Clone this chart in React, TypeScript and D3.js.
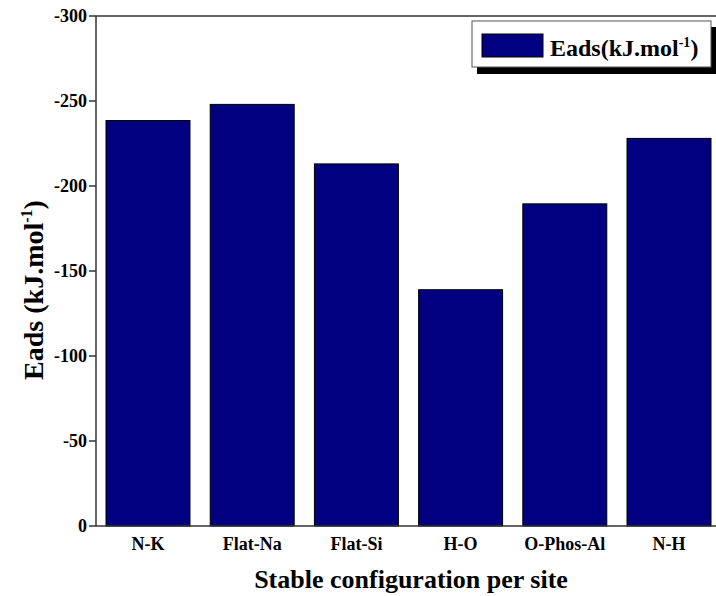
import * as d3 from "d3";
import React from "react";

// adsorption energies per site (kJ/mol)
const sites = ["N-K", "Flat-Na", "Flat-Si", "H-O", "O-Phos-Al", "N-H"];
const eads = [-238.5, -248, -213, -139, -189.5, -228];
const yTicks = [0, -50, -100, -150, -200, -250, -300];

const W = 716;
const H = 596;
const left = 96;
const top = 16;
const bottom = 526;

const App = () => {
  const x = d3.scaleBand<string>()
    .domain(sites)
    .range([left, 721])
    .paddingInner(0.194)
    .paddingOuter(0.096);

  const y = d3.scaleLinear().domain([0, -300]).range([bottom, top]);

  const font = "Liberation Serif, Times New Roman, DejaVu Serif, serif";

  return (
    <svg width={W} height={H}
      style={{ position: "absolute", left: 0, top: 0, background: "#fff", fontFamily: font, fontWeight: "bold" }}>
      {/* bars */}
      {sites.map((s, i) => (
        <rect key={s} x={x(s)} y={y(eads[i])} width={x.bandwidth()} height={bottom - y(eads[i])}
          fill="#000080" stroke="#000" strokeWidth={1} />
      ))}

      {/* frame lines */}
      <line x1={left} x2={W} y1={top} y2={top} stroke="#333" strokeWidth={1.5} />
      <line x1={left} x2={left} y1={top} y2={bottom} stroke="#333" strokeWidth={1.5} />
      <line x1={left} x2={W} y1={bottom} y2={bottom} stroke="#333" strokeWidth={1.5} />

      {/* y ticks */}
      {yTicks.map(t => (
        <g key={t} transform={`translate(0,${y(t)})`}>
          <line x1={left - 7} x2={left} stroke="#333" strokeWidth={1.5} />
          <text x={left - 9} dy="0.35em" textAnchor="end" fontSize={18}>{t}</text>
        </g>
      ))}

      {/* x labels */}
      {sites.map(s => (
        <text key={s} x={x(s)! + x.bandwidth() / 2} y={550} textAnchor="middle" fontSize={18}>{s}</text>
      ))}

      {/* axis titles */}
      <text x={411} y={588} textAnchor="middle" fontSize={26}>Stable configuration per site</text>
      <text transform="translate(43,290) rotate(-90)" textAnchor="middle" fontSize={28}>
        Eads (kJ.mol<tspan dy={-11} fontSize={16}>-1</tspan><tspan dy={11}>)</tspan>
      </text>

      {/* legend */}
      <rect x={477} y={27} width={240} height={47} fill="#000" />
      <rect x={472} y={21} width={239} height={46} fill="#fff" stroke="#555" strokeWidth={1} />
      <rect x={482} y={34} width={61} height={23} fill="#000080" stroke="#000" strokeWidth={1} />
      <text x={550} y={56} fontSize={24}>
        Eads(kJ.mol<tspan dy={-9} fontSize={14}>-1</tspan><tspan dy={9}>)</tspan>
      </text>
    </svg>
  );
};

export default App;
